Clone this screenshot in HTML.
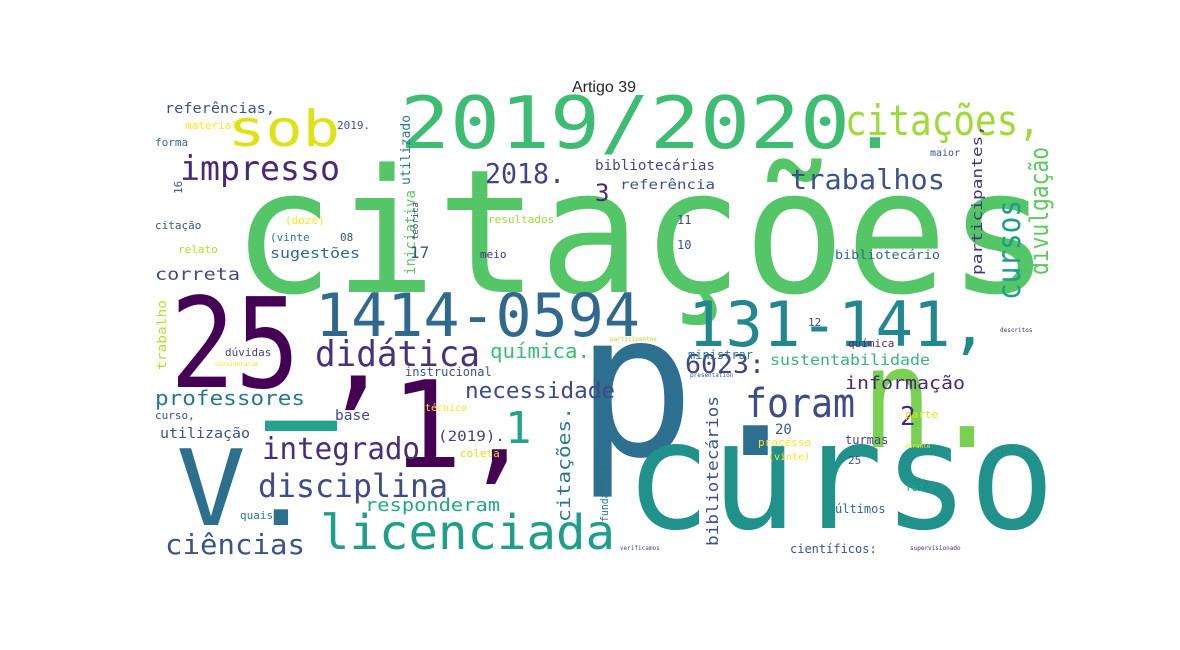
<!DOCTYPE html>
<html><head><meta charset="utf-8">
<style>
html,body{margin:0;padding:0;background:#fff;width:1180px;height:650px;overflow:hidden}
svg text{font-family:"DejaVu Sans Mono","Liberation Mono",monospace}
</style></head>
<body>
<svg id="cloud" width="1180" height="650" xmlns="http://www.w3.org/2000/svg">
<text x="604" y="92" text-anchor="middle" style="font-family:'Liberation Sans',sans-serif" font-size="16" fill="#262626">Artigo 39</text>
</svg>
<script>
const words = ["citações","p.","curso","25","V.","–","’1,","n.","2019/2020.","1414-0594","131-141,","sob","citações,","impresso","didática","foram","cursos","divulgação","trabalhos","2018.","3","1","integrado","disciplina","licenciada","ciências","professores","necessidade","química.","6023:","sustentabilidade","informação","2","responderam","citações.","bibliotecários","participantes,","correta","sugestões","referências,","bibliotecárias","referência","iniciativa","utilizado","utilização","(2019).","base","curso,","dúvidas","trabalho","meio","17","resultados","11","10","bibliotecário","instrucional","ministrar","química","12","turmas","processo","20","parte","25","foi","últimos","científicos:","quais","coleta","técnico","fundamental","material","2019.","forma","16","citação","relato","(vinte","08","(doze)","teórica","maior","(vinte)","consideraram","presentation","participantes","durante","supervisionado","verificamos","descritos"];
const xs    = [232,575,625,170,176,265,318,862,400,315,688,228,845,180,315,745,1020,1048,790,485,595,505,262,258,320,165,155,465,490,685,770,845,900,365,570,718,982,155,270,165,595,620,415,410,160,438,335,155,225,166,480,410,488,677,677,835,405,688,848,808,845,758,775,905,848,905,835,790,240,460,425,608,185,337,155,182,155,178,270,340,285,418,930,768,215,690,610,905,910,620,1000];
const ys    = [292,455,528,387,525,467,467,447,148,336,346,146,135,180,366,417,300,275,189,183,201,443,459,497,549,554,405,398,358,373,365,389,425,511,522,546,275,280,258,113,170,189,275,185,438,441,420,419,356,370,258,258,223,224,249,259,376,359,347,326,444,446,434,418,464,491,513,553,519,457,411,522,129,129,146,194,229,253,241,241,224,240,156,460,366,377,341,448,550,550,332];
const sizes = [172,200,150,125,105,150,120,140,72,60,62,50,42,34,36,40,32,26,28,28,24,44,30,32,48,28,20,22,20,26,15,18,26,18,18,16,14,17,14,14,14,13,14,13,14,14,14,11,11,12,11,16,11,12,12,12,12,12,11,11,12,11,14,11,11,11,12,12,11,11,10,11,11,11,11,11,11,11,11,11,11,9,10,10,6,6,6,6,6,6,6];
const widths= [818,0,430,130,140,72,0,140,500,325,300,112,195,160,165,110,100,128,155,80,0,0,158,190,295,140,150,150,100,80,160,120,0,135,115,150,150,85,90,110,120,95,85,70,90,67,35,0,0,70,0,0,0,0,0,105,0,0,0,0,0,0,0,0,0,0,0,0,0,0,0,65,0,0,0,0,0,0,0,0,0,0,0,0,0,0,0,0,0,0,0];
const colors= ["#55c667","#2c6f8e","#21918c","#440154","#2d708e","#25a18e","#440154","#7ad151","#3fbc73","#31688e","#23888e","#dde318","#a0da39","#482878","#46327e","#3e4a89","#1f9e89","#5ec962","#3b528b","#414487","#482878","#20a386","#472d7b","#3e4c8a","#1f9e89","#3b528b","#2a788e","#3e4a89","#3bbb75","#414487","#35b779","#482878","#482878","#22a884","#2a788e","#3b528b","#46337e","#3e4a89","#31688e","#3b528b","#404688","#3b528b","#5ec962","#2a788e","#3b528b","#433e85","#3e4a89","#3b528b","#414487","#b5de2b","#46327e","#3b528b","#a0da39","#3e4a89","#3b528b","#31688e","#3b528b","#2a788e","#482878","#3e4a89","#414487","#fde725","#3b528b","#dde318","#3e4a89","#22a884","#31688e","#3b528b","#2a788e","#dde318","#fde725","#2a788e","#fde725","#3b528b","#31688e","#3b528b","#3b528b","#b5de2b","#2a788e","#3b528b","#fde725","#3e4a89","#3b528b","#fde725","#fde725","#3b528b","#b5de2b","#fde725","#482878","#3b528b","#482878"];
const vertical = [0,0,0,0,0,0,0,0,0,0,0,0,0,0,0,0,1,1,0,0,0,0,0,0,0,0,0,0,0,0,0,0,0,0,1,1,1,0,0,0,0,0,1,1,0,0,0,0,0,1,0,0,0,0,0,0,0,0,0,0,0,0,0,0,0,0,0,0,0,0,0,1,0,0,0,1,0,0,0,0,0,1,0,0,0,0,0,0,0,0,0];
const svg = document.getElementById('cloud');
const NS = "http://www.w3.org/2000/svg";
for (let i = 0; i < words.length; i++) {
  const t = document.createElementNS(NS, 'text');
  
  
  t.setAttribute('x', xs[i]);
  t.setAttribute('y', ys[i]);
  t.setAttribute('font-size', sizes[i]);
  t.setAttribute('fill', colors[i]);
  if (widths[i] > 0) {
    t.setAttribute('textLength', widths[i]);
    t.setAttribute('lengthAdjust', 'spacingAndGlyphs');
  }
  if (vertical[i]) t.setAttribute('transform', 'rotate(-90 ' + xs[i] + ' ' + ys[i] + ')');
  t.textContent = words[i];
  svg.appendChild(t);
}
</script>
</body></html>
